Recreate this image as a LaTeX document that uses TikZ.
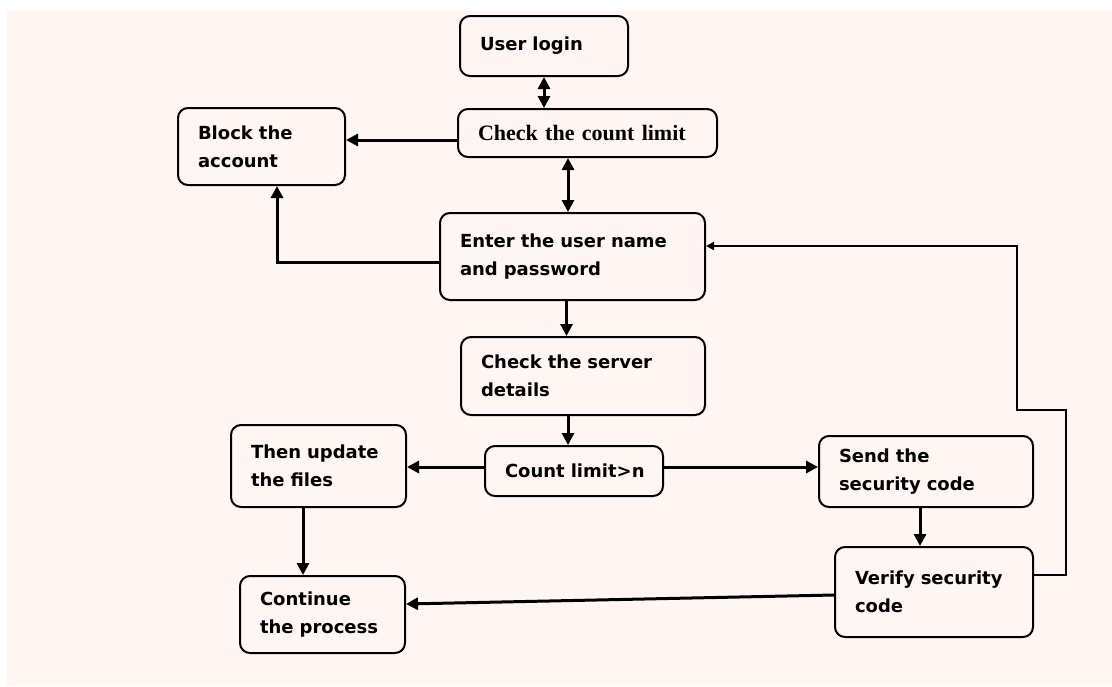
\documentclass[tikz,border=0pt]{standalone}
\usepackage{fontspec}
\setmainfont{DejaVu Sans}
\newfontfamily\timesfont{Liberation Serif}
\usetikzlibrary{arrows.meta}
\definecolor{bgpink}{RGB}{255,245,243}
\begin{document}
\begin{tikzpicture}[x=0.5pt, y=-0.5pt]
        \useasboundingbox (0,0) rectangle (1112,686);
        \fill[bgpink] (7,11) rectangle (1112,686);
        %
        \tikzset{box/.style={draw, line width=1pt, rounded corners=5pt, align=left, inner xsep=10pt, inner ysep=0pt, font=\fontsize{9}{14}\selectfont\bfseries}}
        \tikzset{arr/.style={line width=1.5pt, -{Triangle[length=6pt, width=6pt]}}}
        \tikzset{darr/.style={line width=1.5pt, {Triangle[length=6pt, width=6pt]}-{Triangle[length=6pt, width=6pt]}}}
        \tikzset{fb/.style={line width=1pt, -{Triangle[length=4pt, width=4pt]}}}
        %
        \draw (544,46) node[box, text width=64pt, minimum height=30pt](login){User login};
        \draw (587.5,133) node[box, text width=109.5pt, minimum height=24pt, font=\timesfont\fontsize{11}{14}\selectfont\bfseries](check){Check the count limit};
        \draw (261.5,146.5) node[box, text width=63.5pt, minimum height=38.5pt](block){Block the\\account};
        \draw (572.5,256.5) node[box, text width=112.5pt, minimum height=43.5pt](enter){Enter the user name\\and password};
        \draw (583,376) node[box, text width=102pt, minimum height=39pt](server){Check the server\\details};
        \draw (574,471) node[box, text width=69pt, minimum height=25pt](countn){\mbox{Count limit>n}};
        \draw (318.5,466) node[box, text width=67.5pt, minimum height=41pt](update){Then update\\the files};
        \draw (926,471.5) node[box, text width=87pt, minimum height=35.5pt](send){Send the\\security code};
        \draw (934,592) node[box, text width=79pt, minimum height=45pt](verify){Verify security\\code};
        \draw (322.5,614.5) node[box, text width=62.5pt, minimum height=38.5pt](cont){Continue\\the process};
        %
        \draw[darr] (login.south) -- (login.south |- check.north);
        \draw[darr] ([xshift=-2.25pt]enter.north |- check.south) -- ([xshift=-2.25pt]enter.north);
        \draw[arr] ([yshift=-3.5pt]check.west) -- ([yshift=-3.5pt]check.west -| block.east);
        \draw[arr] ([yshift=-2.75pt]enter.west) -| ([xshift=7.75pt]block.south);
        \draw[arr] ([xshift=-3pt]enter.south) -- ([xshift=-3pt]enter.south |- server.north);
        \draw[arr] ([xshift=-3pt]countn.north |- server.south) -- ([xshift=-3pt]countn.north);
        \draw[arr] ([yshift=2pt]countn.west) -- ([yshift=2pt]countn.west -| update.east);
        \draw[arr] ([yshift=2pt]countn.east) -- ([yshift=2pt]countn.east -| send.west);
        \draw[arr] ([xshift=-3pt]send.south) -- ([xshift=-3pt]send.south |- verify.north);
        \draw[arr] ([xshift=-7.75pt]update.south) -- ([xshift=-7.75pt]update.south |- cont.north);
        \draw[arr] ([yshift=-1.5pt]verify.west) -- ([yshift=5.25pt]cont.east);
        %
        \coordinate (r1) at (1066,410);
        \coordinate (r2) at (1017,410);
        \draw[fb] ([yshift=8.5pt]verify.east) -| (r1) -- (r2) |- ([yshift=5.25pt]enter.east);
    \end{tikzpicture}
\end{document}
